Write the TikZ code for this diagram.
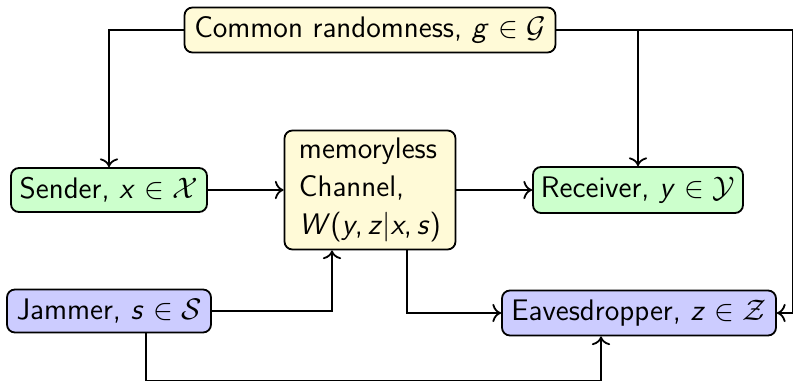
\documentclass[tikz,border=0pt]{standalone}
\usepackage{amsmath}
\usepackage{fontspec}
\usetikzlibrary{calc,arrows.meta}
\definecolor{cream}{RGB}{255,250,215}
\definecolor{lgreen}{RGB}{204,255,204}
\definecolor{lblue}{RGB}{204,204,255}
\newcommand{\sv}[1]{\textit{#1}}
\newcommand{\PX}{0.4036}
\begin{document}
\begin{tikzpicture}[x=\PX pt,y=-\PX pt,
  every node/.style={font=\sffamily\large},
  blk/.style={draw,line width=1.8*\PX pt,rounded corners=8*\PX pt,inner sep=1pt,anchor=center},
  conn/.style={line width=1.8*\PX pt},
  arr/.style={conn,-{To[scale=1.1]}}]
\useasboundingbox (0,0) rectangle (794,382);
\node[blk,fill=cream,minimum width=371*\PX pt,minimum height=45*\PX pt] (common) at (370,30) {Common randomness, \sv{g} $\in\mathcal{G}$};
\node[blk,fill=lgreen,minimum width=196*\PX pt,minimum height=44*\PX pt] (sender) at (109,190) {Sender, \sv{x} $\in\mathcal{X}$};
\node[blk,fill=cream,minimum width=171*\PX pt,minimum height=119*\PX pt,align=left,font=\sffamily\fontsize{12}{15.3}\selectfont] (channel) at (370,190) {memoryless\\Channel,\\\sv{W}(\sv{y},\,\sv{z}$|$\sv{x},\,\sv{s})};
\node[blk,fill=lgreen,minimum width=210*\PX pt,minimum height=46*\PX pt] (receiver) at (638,190) {Receiver, \sv{y} $\in\mathcal{Y}$};
\node[blk,fill=lblue,minimum width=204*\PX pt,minimum height=43*\PX pt] (jammer) at (109,311) {Jammer, \sv{s} $\in\mathcal{S}$};
\node[blk,fill=lblue,minimum width=274*\PX pt,minimum height=45*\PX pt] (eaves) at (639,313) {Eavesdropper, \sv{z} $\in\mathcal{Z}$};
\coordinate (rc) at (792.5,30);
\coordinate (bl) at (146,380.5);
\draw[arr] (common.west) -| (sender.north);
\draw[arr] (common.east) -- (rc) |- (eaves.east);
\draw[arr] (common.east -| receiver.north) -- (receiver.north);
\draw[arr] (sender.east) -- (channel.west);
\draw[arr] (channel.east) -- (receiver.west);
\draw[arr] (jammer.east) -| ([xshift=-38*\PX pt]channel.south);
\draw[arr] ([xshift=37*\PX pt]channel.south) |- (eaves.west);
\draw[arr] (jammer.south -| bl) -- (bl) -| ([xshift=-38*\PX pt]eaves.south);
\end{tikzpicture}
\end{document}
